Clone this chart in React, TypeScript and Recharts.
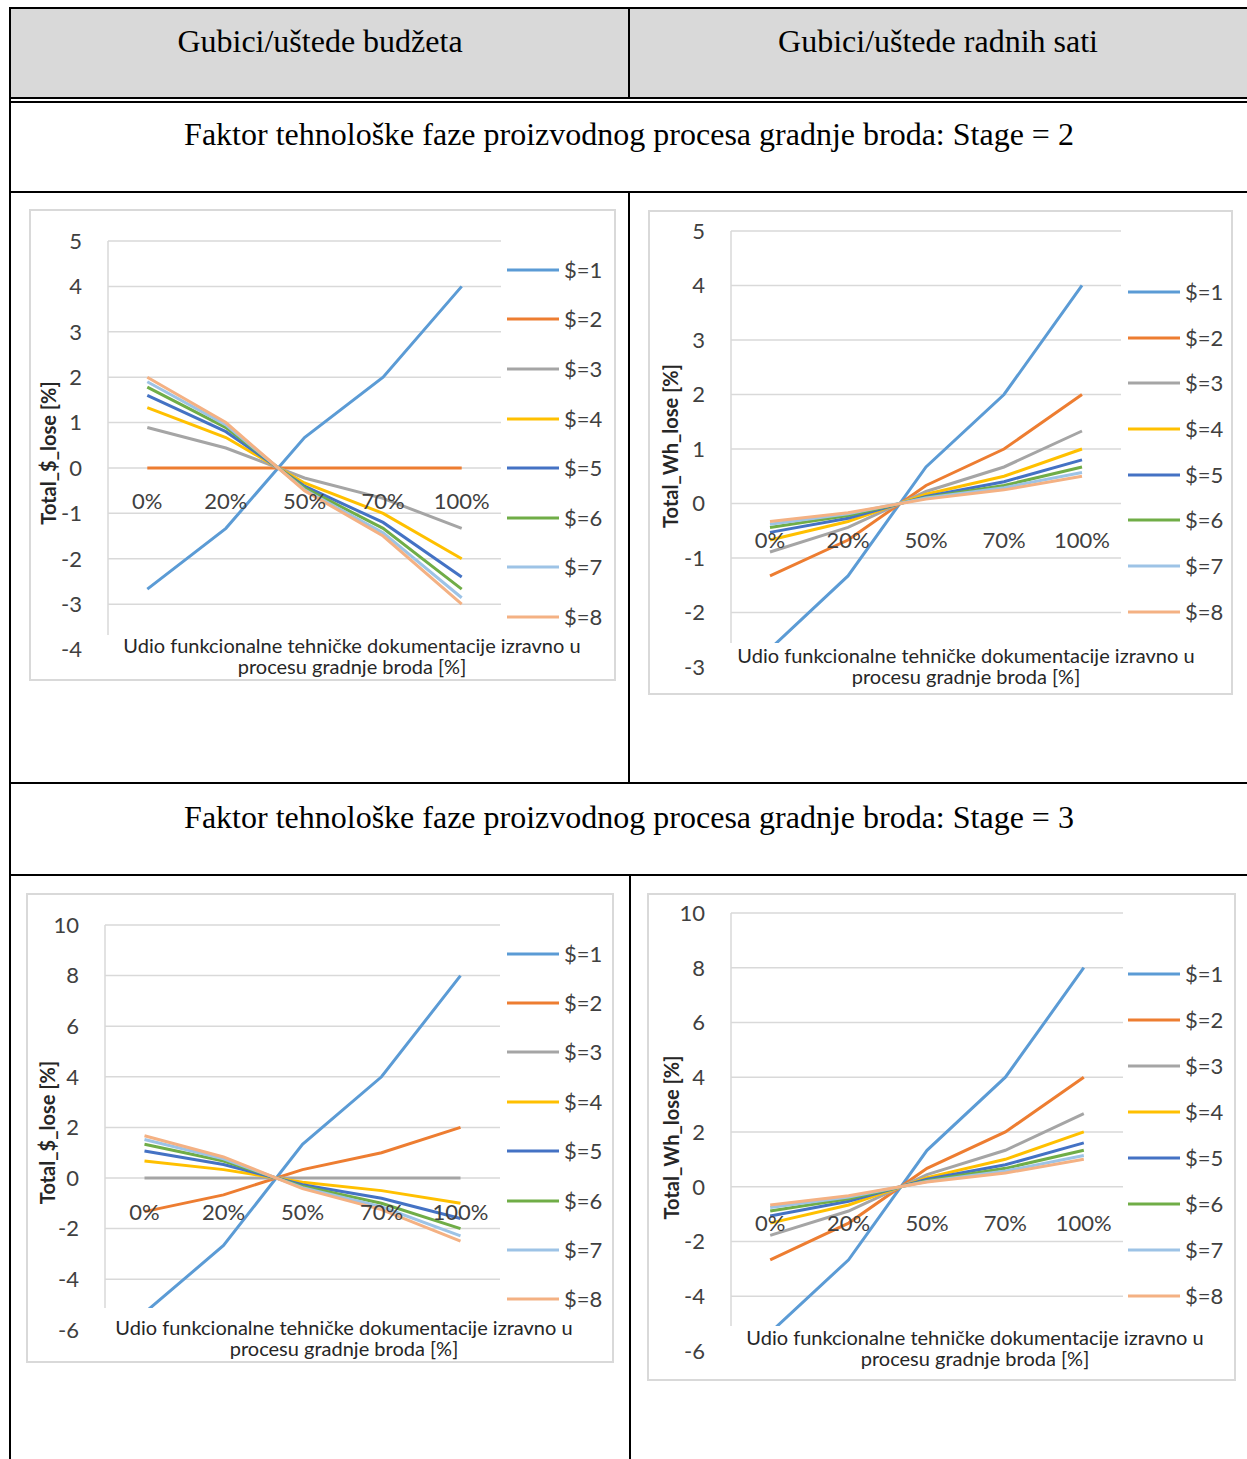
import { LineChart, Line, XAxis, YAxis, CartesianGrid, Legend, LabelList, Label } from 'recharts';

const FONT = 'Lato, "Open Sans", sans-serif';
const SERIF = '"Liberation Serif", "Times New Roman", serif';

const categories = ['0%', '20%', '50%', '70%', '100%'];
const seriesNames = ['$=1', '$=2', '$=3', '$=4', '$=5', '$=6', '$=7', '$=8'];
const seriesColors = ['#5B9BD5', '#ED7D31', '#A5A5A5', '#FFC000', '#4472C4', '#70AD47', '#9DC3E6', '#F4B183'];

// Stage = 2, budget (Total_$_lose)
const budgetStage2 = [
  [-2.67, -1.33, 0.67, 2, 4],
  [0, 0, 0, 0, 0],
  [0.89, 0.44, -0.22, -0.67, -1.33],
  [1.33, 0.67, -0.33, -1, -2],
  [1.6, 0.8, -0.4, -1.2, -2.4],
  [1.78, 0.89, -0.44, -1.33, -2.67],
  [1.9, 0.95, -0.48, -1.43, -2.86],
  [2, 1, -0.5, -1.5, -3],
];

// Stage = 2, working hours (Total_Wh_lose)
const hoursStage2 = [
  [-2.67, -1.33, 0.67, 2, 4],
  [-1.33, -0.67, 0.33, 1, 2],
  [-0.89, -0.44, 0.22, 0.67, 1.33],
  [-0.67, -0.33, 0.17, 0.5, 1],
  [-0.53, -0.27, 0.13, 0.4, 0.8],
  [-0.44, -0.22, 0.11, 0.33, 0.67],
  [-0.38, -0.19, 0.1, 0.29, 0.57],
  [-0.33, -0.17, 0.08, 0.25, 0.5],
];

// Stage = 3, budget
const budgetStage3 = [
  [-5.33, -2.67, 1.33, 4, 8],
  [-1.33, -0.67, 0.33, 1, 2],
  [0, 0, 0, 0, 0],
  [0.67, 0.33, -0.17, -0.5, -1],
  [1.07, 0.53, -0.27, -0.8, -1.6],
  [1.33, 0.67, -0.33, -1, -2],
  [1.52, 0.76, -0.38, -1.14, -2.29],
  [1.67, 0.83, -0.42, -1.25, -2.5],
];

// Stage = 3, working hours
const hoursStage3 = [
  [-5.33, -2.67, 1.33, 4, 8],
  [-2.67, -1.33, 0.67, 2, 4],
  [-1.78, -0.89, 0.44, 1.33, 2.67],
  [-1.33, -0.67, 0.33, 1, 2],
  [-1.07, -0.53, 0.27, 0.8, 1.6],
  [-0.89, -0.44, 0.22, 0.67, 1.33],
  [-0.76, -0.38, 0.19, 0.57, 1.14],
  [-0.67, -0.33, 0.17, 0.5, 1],
];

const ticksBudget2 = [-4, -3, -2, -1, 0, 1, 2, 3, 4, 5];
const ticksHours2 = [-3, -2, -1, 0, 1, 2, 3, 4, 5];
const ticksStage3 = [-6, -4, -2, 0, 2, 4, 6, 8, 10];

const xTitle1 = 'Udio funkcionalne tehničke dokumentacije izravno u';
const xTitle2 = 'procesu gradnje broda [%]';

function buildRows(values: number[][]) {
  return categories.map((cat, i) => {
    const row: any = { cat, zero: 0 };
    values.forEach((s, k) => {
      row['s' + k] = s[i];
    });
    return row;
  });
}

interface ChartProps {
  values: number[][];
  yTitle: string;
  ticks: number[];
  domain: [number, number];
  width: number;
  height: number;
  plotLeft: number;
  plotTop: number;
  marginRight: number;
  xAxisHeight: number;
  legendLeft: number;
  legendTop: number;
  legendRow: number;
  yTitleX: number;
  yTitleDy: number;
  xTitleDx: number;
  xTitleDy: number;
  catDy: number;
}

function Chart(p: ChartProps) {
  const rows = buildRows(p.values);
  const plotWidth = p.width - p.plotLeft - p.marginRight;
  const pad = plotWidth / categories.length / 2;
  const gridValues = p.ticks.filter((t) => t >= p.domain[0] && t <= p.domain[1]);

  const yTitleContent = (props: any) => {
    const vb = props.viewBox || {};
    const cx = (vb.x || 0) + p.yTitleX;
    const cy = vb.y + vb.height / 2 + p.yTitleDy;
    return (
      <text x={cx} y={cy} transform={`rotate(-90 ${cx} ${cy})`} textAnchor="middle" dominantBaseline="central"
        fontSize={20} fontWeight={700} fill="#262626" fontFamily={FONT}>
        {p.yTitle}
      </text>
    );
  };

  const xTitleContent = (props: any) => {
    const vb = props.viewBox || {};
    const cx = vb.x + p.xTitleDx;
    const cy = vb.y + p.xTitleDy - 1;
    return (
      <text textAnchor="middle" dominantBaseline="central" fontSize={20} fill="#262626" fontFamily={FONT}>
        <tspan x={cx} y={cy}>{xTitle1}</tspan>
        <tspan x={cx} y={cy + 21}>{xTitle2}</tspan>
      </text>
    );
  };

  const catLabel = (props: any) => {
    const x = props.x ?? props.viewBox?.x;
    const y = props.y ?? props.viewBox?.y;
    return (
      <text x={x} y={y + p.catDy} textAnchor="middle" dominantBaseline="central" fontSize={22} fill="#404040" fontFamily={FONT}>
        {props.value}
      </text>
    );
  };

  const legendContent = (props: any) => (
    <div style={{ display: 'flex', flexDirection: 'column' }}>
      {(props.payload || [])
        .filter((e: any) => seriesNames.includes(e.value))
        .map((e: any) => (
          <div key={e.value} style={{ height: p.legendRow, display: 'flex', alignItems: 'center' }}>
            <svg width={52} height={4}>
              <line x1={0} y1={2} x2={52} y2={2} stroke={e.color} strokeWidth={3} />
            </svg>
            <span style={{ marginLeft: 5, fontSize: 22, color: '#404040', fontFamily: FONT, lineHeight: 1 }}>{e.value}</span>
          </div>
        ))}
    </div>
  );

  return (
    <LineChart
      width={p.width}
      height={p.height}
      data={rows}
      margin={{ top: p.plotTop, right: p.marginRight, bottom: 0, left: 0 }}
      style={{ fontFamily: FONT }}
    >
      <CartesianGrid vertical={false} stroke="#d9d9d9" strokeWidth={1.5} horizontalValues={gridValues} />
      <XAxis dataKey="cat" tick={false} axisLine={false} tickLine={false} height={p.xAxisHeight} padding={{ left: pad, right: pad }}>
        <Label content={xTitleContent} />
      </XAxis>
      <YAxis
        type="number"
        domain={p.domain}
        ticks={p.ticks}
        interval={0}
        allowDataOverflow
        width={p.plotLeft}
        tickSize={0}
        tickMargin={26}
        tickLine={false}
        axisLine={{ stroke: '#d9d9d9', strokeWidth: 1.5 }}
        tick={{ fill: '#404040', fontSize: 22, fontFamily: FONT }}
      >
        <Label content={yTitleContent} />
      </YAxis>
      <Line dataKey="zero" stroke="none" dot={false} activeDot={false} legendType="none" isAnimationActive={false}>
        <LabelList dataKey="cat" content={catLabel} />
      </Line>
      {seriesNames.map((name, k) => (
        <Line
          key={name}
          dataKey={'s' + k}
          name={name}
          stroke={seriesColors[k]}
          strokeWidth={3}
          dot={false}
          activeDot={false}
          legendType="plainline"
          isAnimationActive={false}
        />
      ))}
      <Legend
        layout="vertical"
        align="center"
        verticalAlign="middle"
        content={legendContent}
        wrapperStyle={{ left: p.legendLeft, top: p.legendTop, width: 'auto' }}
      />
    </LineChart>
  );
}

function Frame({ left, top, width, height, children }: { left: number; top: number; width: number; height: number; children: any }) {
  return (
    <div style={{ position: 'absolute', left, top, width, height, background: '#fff' }}>
      {children}
      <div style={{ position: 'absolute', inset: 0, border: '2px solid #d9d9d9', boxSizing: 'border-box', pointerEvents: 'none' }} />
    </div>
  );
}

function Rule({ l, t, w, h }: { l: number; t: number; w: number; h: number }) {
  return <div style={{ position: 'absolute', left: l, top: t, width: w, height: h, background: '#000' }} />;
}

function Caption({ cx, cy, text }: { cx: number; cy: number; text: string }) {
  return (
    <div style={{ position: 'absolute', left: cx - 500, top: cy - 18, width: 1000, textAlign: 'center', lineHeight: '36px', fontSize: 32, fontFamily: SERIF, color: '#000', whiteSpace: 'nowrap' }}>
      {text}
    </div>
  );
}

export default function App() {
  return (
    <div style={{ position: 'absolute', left: 0, top: 0, width: 1247, height: 1459, overflow: 'hidden', background: '#fff' }}>
      <div style={{ position: 'absolute', left: 11, top: 9, width: 1236, height: 88, background: '#d9d9d9' }} />
      <Rule l={9} t={7} w={1238} h={2} />
      <Rule l={9} t={7} w={2} h={1452} />
      <Rule l={628} t={9} w={2} h={88} />
      <Rule l={11} t={97} w={1236} h={2} />
      <Rule l={11} t={101} w={1236} h={2} />
      <Rule l={11} t={191} w={1236} h={2} />
      <Rule l={628} t={193} w={2} h={589} />
      <Rule l={11} t={782} w={1236} h={2} />
      <Rule l={11} t={874} w={1236} h={2} />
      <Rule l={629} t={876} w={2} h={583} />

      <Caption cx={320} cy={41} text="Gubici/uštede budžeta" />
      <Caption cx={938} cy={41} text="Gubici/uštede radnih sati" />
      <Caption cx={629} cy={134} text="Faktor tehnološke faze proizvodnog procesa gradnje broda: Stage = 2" />
      <Caption cx={629} cy={817} text="Faktor tehnološke faze proizvodnog procesa gradnje broda: Stage = 3" />

      <Frame left={29} top={209} width={587} height={472}>
        <Chart values={budgetStage2} yTitle="Total_$_lose [%]" ticks={ticksBudget2} domain={[-3.68, 5]}
          width={587} height={472} plotLeft={79} plotTop={32} marginRight={115} xAxisHeight={46}
          legendLeft={478} legendTop={36} legendRow={49.6} yTitleX={19} yTitleDy={15}
          xTitleDx={244} xTitleDy={11} catDy={33} />
      </Frame>
      <Frame left={648} top={210} width={585} height={485}>
        <Chart values={hoursStage2} yTitle="Total_Wh_lose [%]" ticks={ticksHours2} domain={[-2.56, 5]}
          width={585} height={485} plotLeft={83} plotTop={21} marginRight={112} xAxisHeight={52}
          legendLeft={480} legendTop={59} legendRow={45.7} yTitleX={22} yTitleDy={9}
          xTitleDx={235} xTitleDy={13} catDy={36} />
      </Frame>
      <Frame left={26} top={893} width={588} height={470}>
        <Chart values={budgetStage3} yTitle="Total_$_lose [%]" ticks={ticksStage3} domain={[-5.14, 10]}
          width={588} height={470} plotLeft={79} plotTop={32} marginRight={114} xAxisHeight={55}
          legendLeft={481} legendTop={36} legendRow={49.4} yTitleX={21} yTitleDy={16}
          xTitleDx={239} xTitleDy={20} catDy={34} />
      </Frame>
      <Frame left={647} top={893} width={589} height={488}>
        <Chart values={hoursStage3} yTitle="Total_Wh_lose [%]" ticks={ticksStage3} domain={[-5.09, 10]}
          width={589} height={488} plotLeft={84} plotTop={20} marginRight={113} xAxisHeight={55}
          legendLeft={481} legendTop={58} legendRow={46} yTitleX={24} yTitleDy={18}
          xTitleDx={244} xTitleDy={12} catDy={36} />
      </Frame>
    </div>
  );
}
